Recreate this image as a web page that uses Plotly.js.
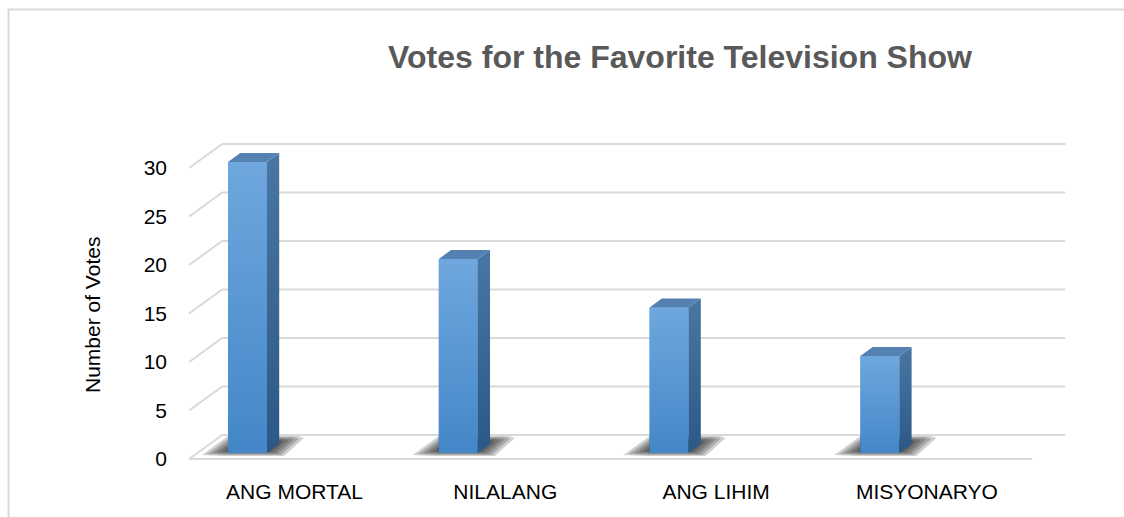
<!DOCTYPE html>
<html>
<head>
<meta charset="utf-8">
<script src="https://cdn.plot.ly/plotly-3.0.1.min.js"></script>
<style>
  html, body { margin: 0; padding: 0; background: #ffffff; }
  #chart { width: 1124px; height: 517px; }
</style>
</head>
<body>
<div id="chart"></div>
<script>
// ---- data ----
const categories = ['ANG MORTAL', 'NILALANG', 'ANG LIHIM', 'MISYONARYO'];
const votes = [30, 20, 15, 10];
const yTickValues = [0, 5, 10, 15, 20, 25, 30];
const chartTitle = 'Votes for the Favorite Television Show';
const yAxisTitle = 'Number of Votes';

// ---- geometry (pixels -> data units) ----
const W = 1124, H = 517;
const L = 172, R = 1080, T = 130, B = 470;      // plot area
const PX_X = 210.8;                              // px per category slot
const PX_Y = 9.7;                                // px per vote
const C0 = 294.5;                                // px of first slot centre
const FLOOR_Y = 459;                             // px of value 0 on front plane
const dx = p => p / PX_X;
const dy = p => p / PX_Y;

const xRange = [(L - C0) / PX_X, (R - C0) / PX_X];
const yRange = [(FLOOR_Y - B) / PX_Y, (FLOOR_Y - T) / PX_Y];

const xIdx = categories.map((c, i) => i);
const frontLeft = -0.5;
const frontRight = categories.length - 0.5;
const DX = dx(33), DY = dy(24);                  // full depth vector
const barFront = 0.25, barDepth = 0.37;
const BW = dx(39), OFF = dx(228 - C0);
const base = barFront * DY;
const bdx = barDepth * DX, bdy = barDepth * DY;

const FONT = 'Liberation Sans, Arial, sans-serif';
const grid = '#d9d9d9';
const shapes = [];
yTickValues.forEach(v => {
  shapes.push({type: 'line', xref: 'x', yref: 'y', x0: frontLeft, y0: v, x1: frontLeft + DX, y1: v + DY,
    line: {color: grid, width: 2}, layer: 'below'});
  shapes.push({type: 'line', xref: 'x', yref: 'y', x0: frontLeft + DX, y0: v + DY, x1: frontRight + DX, y1: v + DY,
    line: {color: grid, width: 2}, layer: 'below'});
});
shapes.push({type: 'line', xref: 'x', yref: 'y', x0: frontLeft, y0: 0, x1: frontRight, y1: 0,
  line: {color: grid, width: 2}, layer: 'below'});
// outer chart border
const px2paperX = p => (p - L) / (R - L);
const px2paperY = p => (B - p) / (B - T);
shapes.push({type: 'rect', xref: 'paper', yref: 'paper',
  x0: px2paperX(8.5), x1: px2paperX(W + 20), y0: px2paperY(9.5), y1: px2paperY(H + 20),
  line: {color: '#d9d9d9', width: 2}, fillcolor: 'rgba(0,0,0,0)', layer: 'below'});

const traces = [];
// soft shadows on the floor (layered to imitate a blur)
const shadowShape = [[-52, 9], [-30, 10], [30, 10], [50, -8], [44, -10], [-26, -10]];
[1.0, 0.9, 0.8, 0.7, 0.6, 0.5, 0.4].forEach(g => {
  const xs = [], ys = [];
  xIdx.forEach(i => {
    const cx = i + OFF + dx(26), cy = base + dy(7);
    shadowShape.concat([shadowShape[0]]).forEach(p => {
      xs.push(cx + dx(p[0] * g)); ys.push(cy - dy(p[1] * g));
    });
    xs.push(null); ys.push(null);
  });
  traces.push({type: 'scatter', mode: 'lines', x: xs, y: ys, fill: 'toself',
    fillcolor: 'rgba(20,20,20,0.2)', line: {width: 0}, hoverinfo: 'skip', showlegend: false});
});

// bars (front faces)
traces.push({
  type: 'bar', x: xIdx, y: votes, base: votes.map(() => base),
  width: BW, offset: OFF,
  marker: {color: '#5597d6', line: {width: 0}},
  hoverinfo: 'skip', showlegend: false
});
// front-face shading, side faces
votes.forEach((v, i) => {
  const x0 = i + OFF, x1 = x0 + BW;
  traces.push({type: 'scatter', mode: 'lines',
    x: [x0, x1, x1, x0, x0], y: [base, base, base + v, base + v, base],
    fill: 'toself', line: {width: 0},
    fillgradient: {type: 'vertical', colorscale: [[0, '#4387c8'], [1, '#6fa7de']]},
    hoverinfo: 'skip', showlegend: false});
  traces.push({type: 'scatter', mode: 'lines',
    x: [x1, x1, x1 + bdx, x1 + bdx, x1],
    y: [base, base + v, base + v + bdy, base + bdy, base],
    fill: 'toself', line: {width: 0},
    fillgradient: {type: 'vertical', colorscale: [[0, '#2b5886'], [1, '#4a76a3']]},
    hoverinfo: 'skip', showlegend: false});
});
// top faces
{
  const xs = [], ys = [];
  votes.forEach((v, i) => {
    const x0 = i + OFF, x1 = x0 + BW, t = base + v;
    xs.push(x0, x1, x1 + bdx, x0 + bdx, x0, null);
    ys.push(t, t, t + bdy, t + bdy, t, null);
  });
  traces.push({type: 'scatter', mode: 'lines', x: xs, y: ys, fill: 'toself',
    fillcolor: '#5481b2', line: {width: 0}, hoverinfo: 'skip', showlegend: false});
}

const layout = {
  width: W, height: H,
  margin: {l: L, r: W - R, t: T, b: H - B, pad: 0},
  paper_bgcolor: '#ffffff', plot_bgcolor: 'rgba(0,0,0,0)',
  hovermode: false, showlegend: false,
  title: {text: chartTitle, x: 680 / W, xref: 'container', xanchor: 'center',
    y: 1 - 57 / H, yref: 'container', yanchor: 'middle',
    font: {family: FONT, size: 32, color: '#595959', weight: 'bold'}},
  xaxis: {type: 'linear', range: xRange, tickvals: xIdx, ticktext: categories,
    showgrid: false, zeroline: false, showline: false, ticks: '', ticklabelstandoff: 7,
    tickfont: {family: FONT, size: 21, color: '#000000'}, fixedrange: true},
  yaxis: {type: 'linear', range: yRange, tickvals: yTickValues, ticktext: yTickValues.map(String),
    showgrid: false, zeroline: false, showline: false, ticks: '', ticklabelstandoff: 4,
    tickfont: {family: FONT, size: 21, color: '#000000'}, fixedrange: true},
  shapes: shapes,
  annotations: [{text: yAxisTitle, xref: 'paper', yref: 'paper', x: px2paperX(92), y: px2paperY(315),
    xanchor: 'center', yanchor: 'middle', textangle: -90, showarrow: false,
    font: {family: FONT, size: 21, color: '#000000'}}]
};

Plotly.newPlot('chart', traces, layout, {displayModeBar: false, staticPlot: true});
</script>
</body>
</html>
